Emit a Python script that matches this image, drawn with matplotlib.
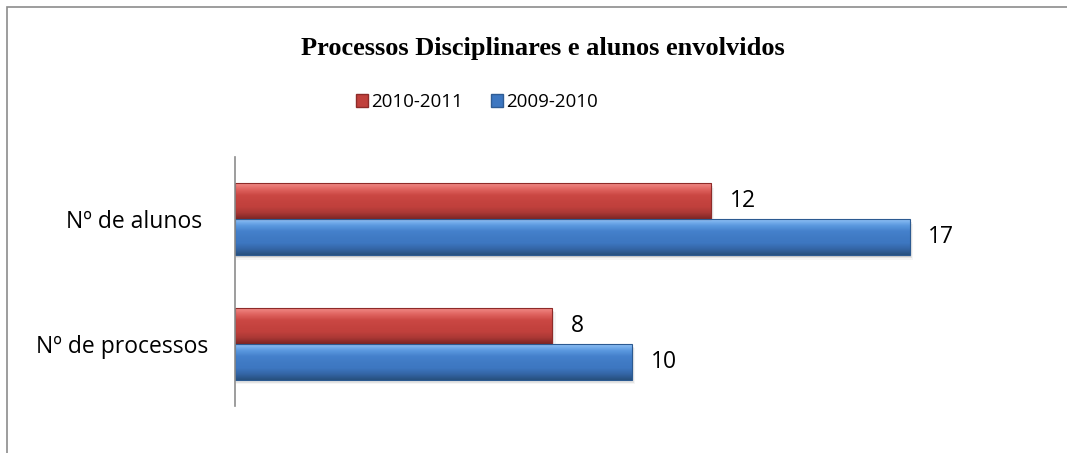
# Gráfico de barras horizontais: processos disciplinares

import matplotlib.pyplot as plt
import numpy as np
from matplotlib.colors import LinearSegmentedColormap
from matplotlib.patches import Rectangle, Patch

# Dados
categorias = ["Nº de processos", "Nº de alunos "]
anos = ["2010-2011", "2009-2010"]
valores_2010_2011 = [8, 12]
valores_2009_2010 = [10, 17]

titulo = "Processos Disciplinares e alunos envolvidos"

# Gradientes (de baixo para cima)
grad_vermelho = ["#7E2624", "#A93835", "#C0403C", "#C5433F", "#CB4844", "#E06460", "#F08A86"]
grad_azul = ["#27507F", "#3466A6", "#3D77C1", "#407BC5", "#4581CC", "#5C9AE0", "#8EC0F5"]

fonte = "Open Sans"

fig = plt.figure(figsize=(10.67, 4.53), dpi=100)
ax = fig.add_axes([0.2202, 0.1038, 0.744, 0.5496])

# Moldura cinza do gráfico
fig.patches.append(Rectangle((7 / 1067, -0.1), 1.2, (1 - 7 / 453) + 0.1,
                             transform=fig.transFigure, fill=False,
                             edgecolor="#8c8c8c", linewidth=1.2))

y = np.arange(len(categorias)) + 0.5
altura = 0.289

barras_a = ax.barh(y + altura / 2, valores_2010_2011, height=altura, facecolor="none",
                   edgecolor="#8E2B29", linewidth=0.8, zorder=4)
barras_b = ax.barh(y - altura / 2, valores_2009_2010, height=altura, facecolor="none",
                   edgecolor="#2C5A91", linewidth=0.8, zorder=4)


def pintar_gradiente(barra, cores):
	x0, y0 = barra.get_x(), barra.get_y()
	w, h = barra.get_width(), barra.get_height()
	cmap = LinearSegmentedColormap.from_list("g", cores)
	grad = np.linspace(0, 1, 80).reshape(-1, 1)
	im = ax.imshow(grad, extent=[x0, x0 + w, y0, y0 + h], origin="lower",
	               cmap=cmap, aspect="auto", zorder=3.5, interpolation="bilinear")
	im.set_clip_path(barra)
	# sombra leve abaixo da barra
	for k, a in enumerate([0.10, 0.07, 0.04]):
		ax.add_patch(Rectangle((x0 + 0.02, y0 - 0.012 * (k + 1)), w + 0.03 * k, h,
		                       color="black", alpha=a, zorder=2, linewidth=0))


for b in barras_a:
	pintar_gradiente(b, grad_vermelho)
for b in barras_b:
	pintar_gradiente(b, grad_azul)

# Rótulos de valor
for b in list(barras_a) + list(barras_b):
	ax.text(b.get_width() + 0.47, b.get_y() + b.get_height() / 2, f"{int(b.get_width())}",
	        va="center", ha="left", fontsize=16.5, family=fonte, color="black")

ax.set_xlim(0, 20)
ax.set_ylim(0, 2)
ax.set_yticks(y)
ax.set_yticklabels(categorias, fontsize=16.5, family=fonte)
ax.tick_params(axis="y", length=0, pad=19.5)
ax.set_xticks([])
for s in ["top", "right", "bottom"]:
	ax.spines[s].set_visible(False)
ax.spines["left"].set_color("#8c8c8c")
ax.spines["left"].set_linewidth(1.2)
ax.spines["left"].set_zorder(5)

fig.text(0.509, 1 - 49 / 453, titulo, ha="center", va="center",
         fontsize=19, fontweight="bold", family="Liberation Serif")

handles = [Patch(facecolor="#C0403C", edgecolor="#8E2B29", label=anos[0]),
           Patch(facecolor="#3D77C1", edgecolor="#2F5C94", label=anos[1])]
fig.legend(handles=handles, loc="center", bbox_to_anchor=(0.447, 1 - 102 / 453), ncol=2,
           frameon=False, prop={"family": fonte, "size": 13.5}, handlelength=0.65,
           handleheight=0.65, handletextpad=0.15, columnspacing=1.5)

fig.savefig("out.png", dpi=100)
